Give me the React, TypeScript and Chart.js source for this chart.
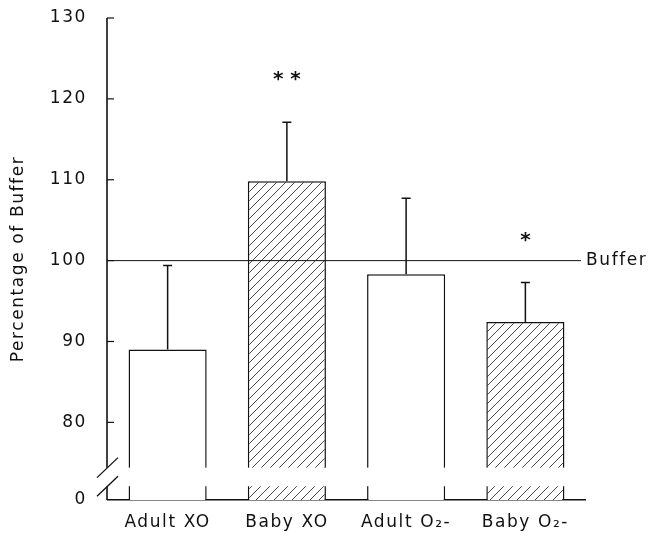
import React, { useEffect, useRef } from "react";
import { Chart, registerables } from "chart.js";

Chart.register(...registerables);

const categories = ["Adult XO", "Baby XO", "Adult O₂-", "Baby O₂-"];
const values = [89.0, 109.8, 98.3, 92.4];
const errorUpper = [99.4, 117.1, 107.7, 97.3];
const hatched = [false, true, false, true];
const significance = ["", "**", "", "*"];
const significanceAt = [null, 122.8, null, 102.9];
const yTicks = [80, 90, 100, 110, 120, 130];
const axisBottom = 70.4; // shown as "0" (broken axis)
const breakLow = 72.1;
const breakHigh = 74.4;
const bufferLevel = 100;
const bufferLabel = "Buffer";
const yTitle = "Percentage of Buffer";

const FONT = "'DejaVu Sans', sans-serif";
const WEIGHT = "normal";
const SIZE = 17;

function makeHatch(): CanvasPattern | string {
  const c = document.createElement("canvas");
  c.width = 9;
  c.height = 9;
  const g = c.getContext("2d");
  if (!g) return "#fff";
  g.fillStyle = "#fff";
  g.fillRect(0, 0, 9, 9);
  g.strokeStyle = "#333";
  g.lineWidth = 0.9;
  g.beginPath();
  g.moveTo(-1, 10);
  g.lineTo(10, -1);
  g.moveTo(-1, 1);
  g.lineTo(1, -1);
  g.moveTo(8, 10);
  g.lineTo(10, 8);
  g.stroke();
  const p = g.createPattern(c, "repeat");
  return p || "#fff";
}

const spacing = {
  id: "spacing",
  beforeDraw(chart: any) {
    chart.ctx.letterSpacing = "1.6px";
  },
};

const decorations = {
  id: "decorations",
  afterDatasetsDraw(chart: any) {
    const ctx = chart.ctx;
    const y = chart.scales.y;
    const area = chart.chartArea;
    const meta = chart.getDatasetMeta(0);
    ctx.save();

    // break band
    const bTop = y.getPixelForValue(breakHigh);
    const bBot = y.getPixelForValue(breakLow);
    ctx.fillStyle = "#fff";
    ctx.fillRect(area.left - 2, bTop, area.right - area.left + 4, bBot - bTop);

    // error bars
    ctx.strokeStyle = "#111";
    ctx.lineWidth = 1.5;
    meta.data.forEach((bar: any, i: number) => {
      const top = y.getPixelForValue(values[i]);
      const e = y.getPixelForValue(errorUpper[i]);
      ctx.beginPath();
      ctx.moveTo(bar.x, top);
      ctx.lineTo(bar.x, e);
      ctx.moveTo(bar.x - 4.5, e);
      ctx.lineTo(bar.x + 4.5, e);
      ctx.stroke();
    });

    // buffer line
    const by = y.getPixelForValue(bufferLevel);
    ctx.lineWidth = 1;
    ctx.beginPath();
    ctx.moveTo(area.left, by);
    ctx.lineTo(area.right - 4, by);
    ctx.stroke();
    ctx.fillStyle = "#111";
    ctx.font = `${WEIGHT} ${SIZE}px ${FONT}`;
    ctx.textAlign = "left";
    ctx.textBaseline = "middle";
    ctx.fillText(bufferLabel, area.right + 1, by);

    // y axis line with break
    const ax = area.left - 1;
    ctx.lineWidth = 1.6;
    ctx.beginPath();
    ctx.moveTo(ax, area.top);
    ctx.lineTo(ax, bTop);
    ctx.moveTo(ax, bBot);
    ctx.lineTo(ax, area.bottom);
    ctx.stroke();
    // inside ticks
    ctx.lineWidth = 1.2;
    yTicks.forEach((v) => {
      const py = y.getPixelForValue(v);
      ctx.beginPath();
      ctx.moveTo(ax, py);
      ctx.lineTo(ax + 7, py);
      ctx.stroke();
    });
    // break slashes
    ctx.lineWidth = 1.3;
    [bTop, bBot].forEach((py) => {
      ctx.beginPath();
      ctx.moveTo(ax - 10, py + 10);
      ctx.lineTo(ax + 11, py - 10);
      ctx.stroke();
    });

    // significance marks
    ctx.letterSpacing = "0px";
    ctx.font = `bold 20px ${FONT}`;
    ctx.textAlign = "center";
    ctx.textBaseline = "middle";
    meta.data.forEach((bar: any, i: number) => {
      const v = significanceAt[i];
      if (v == null || !significance[i]) return;
      ctx.fillText(significance[i].split("").join(" "), bar.x, y.getPixelForValue(v) + 4);
    });

    ctx.restore();
  },
};

export default function App() {
  const ref = useRef<HTMLCanvasElement>(null);
  useEffect(() => {
    if (!ref.current) return;
    const hatch = makeHatch();
    const chart = new Chart(ref.current, {
      type: "bar",
      data: {
        labels: categories,
        datasets: [
          {
            data: values,
            backgroundColor: hatched.map((h) => (h ? hatch : "#fff")) as any,
            borderColor: "#111",
            borderWidth: 1.5,
            borderSkipped: "start",
            barPercentage: 0.655,
            categoryPercentage: 1,
          },
        ],
      },
      options: {
        animation: false,
        responsive: true,
        maintainAspectRatio: false,
        layout: { padding: { left: 0, right: 82, top: 18, bottom: 0 } },
        plugins: { legend: { display: false }, tooltip: { enabled: false } },
        scales: {
          x: {
            grid: { display: false, drawTicks: false },
            border: { display: true, color: "#111", width: 1.5 },
            ticks: { color: "#111", font: { family: FONT, size: SIZE, weight: WEIGHT as any }, padding: 12 },
            afterFit: (s: any) => {
              s.height = 44;
              s.paddingLeft = 0;
              s.paddingRight = 0;
            },
          },
          y: {
            min: axisBottom,
            max: 130,
            grid: { display: false, drawTicks: false },
            border: { display: false },
            afterBuildTicks: (s: any) => {
              s.ticks = [axisBottom, ...yTicks].map((v) => ({ value: v }));
            },
            ticks: {
              color: "#111",
              font: { family: FONT, size: SIZE, weight: WEIGHT as any },
              padding: 21,
              callback: (v: any) => (v === axisBottom ? "0" : String(v)),
            },
            title: {
              display: true,
              text: yTitle,
              color: "#111",
              font: { family: FONT, size: SIZE, weight: WEIGHT as any },
              padding: { top: 8, bottom: 0 },
            },
            afterFit: (s: any) => {
              s.width = 108;
              s.paddingTop = 0;
              s.paddingBottom = 0;
            },
          },
        },
      },
      plugins: [spacing, decorations],
    });
    return () => chart.destroy();
  }, []);
  return (
    <div style={{ position: "fixed", left: 0, top: 0, width: 667, height: 544, background: "#fff" }}>
      <canvas ref={ref} />
    </div>
  );
}
